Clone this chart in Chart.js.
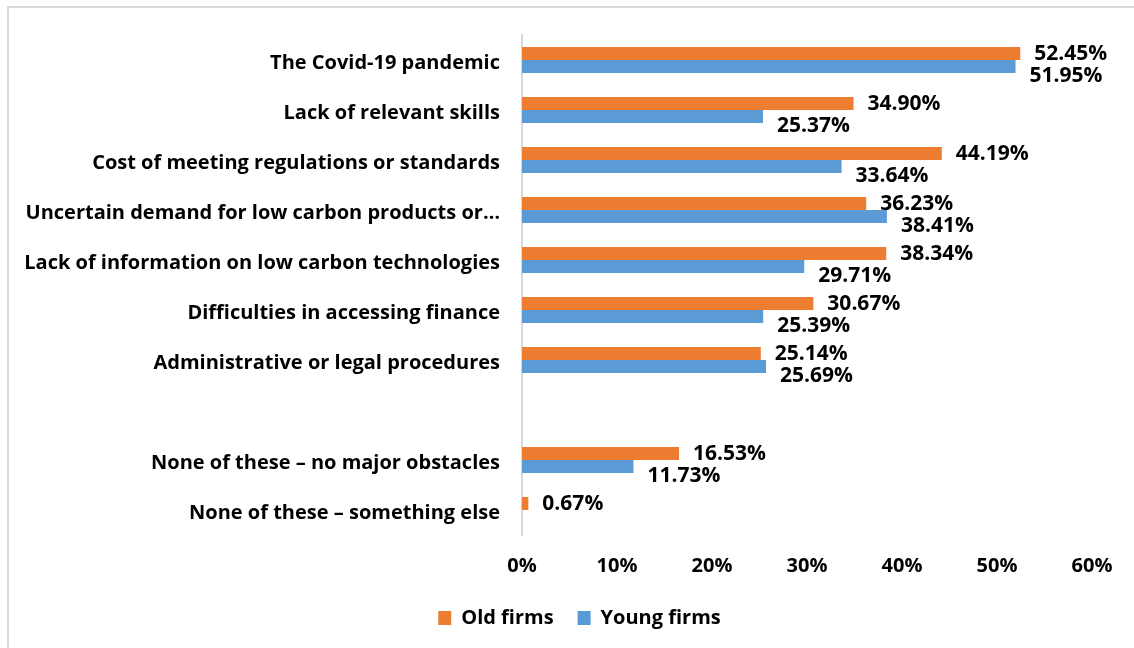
<!DOCTYPE html>
<html>
<head>
<meta charset="utf-8">
<script src="https://cdn.jsdelivr.net/npm/chart.js@4.4.1/dist/chart.umd.min.js"></script>
<style>
  html, body { margin: 0; padding: 0; background: #fff; overflow: hidden; }
  .frame { position: absolute; left: 7px; top: 6px; width: 1200px; height: 700px; border: 2px solid #d9d9d9; }
  .chart-wrapper { position: absolute; left: 0; top: 0; width: 1134px; height: 648px; }
</style>
</head>
<body>
<div class="frame"></div>
<div class="chart-wrapper">
  <canvas id="obstaclesChart" width="1134" height="648"></canvas>
</div>
<script>
// categories (blank one leaves the gap before the "None of these" rows)
const categories = [
  'The Covid-19 pandemic',
  'Lack of relevant skills',
  'Cost of meeting regulations or standards',
  'Uncertain demand for low carbon products or…',
  'Lack of information on low carbon technologies',
  'Difficulties in accessing finance',
  'Administrative or legal procedures',
  '',
  'None of these – no major obstacles',
  'None of these – something else'
];
const oldFirms = [52.45, 34.90, 44.19, 36.23, 38.34, 30.67, 25.14, null, 16.53, 0.67];
const youngFirms = [51.95, 25.37, 33.64, 38.41, 29.71, 25.39, 25.69, null, 11.73, null];
const xTicks = [0, 10, 20, 30, 40, 50, 60];

const ORANGE = '#ED7D31';
const BLUE = '#5B9BD5';
const FONT = "'Open Sans'";

Chart.defaults.font.family = FONT;
Chart.defaults.color = '#000';

// value labels to the right of each bar, young firm labels dropped a bit lower
const barLabels = {
  id: 'barLabels',
  afterDatasetsDraw(chart) {
    const ctx = chart.ctx;
    ctx.save();
    ctx.font = 'bold 21px ' + FONT;
    ctx.fillStyle = '#000';
    ctx.textAlign = 'left';
    ctx.textBaseline = 'middle';
    chart.data.datasets.forEach((ds, i) => {
      const meta = chart.getDatasetMeta(i);
      const dy = i === 0 ? 1 : 10;
      meta.data.forEach((bar, j) => {
        const v = ds.data[j];
        if (v === null || v === undefined) return;
        ctx.fillText(v.toFixed(2) + '%', bar.x + 14, bar.y + dy);
      });
    });
    ctx.restore();
  }
};

// legend sits under the plot, not under the whole canvas
const legendShift = {
  id: 'legendShift',
  afterUpdate(chart) {
    const lg = chart.legend;
    lg.left += 28;
    lg.right += 28;
    lg.adjustHitBoxes();
  }
};

const ctx = document.getElementById('obstaclesChart').getContext('2d');
new Chart(ctx, {
  type: 'bar',
  data: {
    labels: categories,
    datasets: [
      { label: 'Old firms', data: oldFirms, backgroundColor: ORANGE, categoryPercentage: 0.52, barPercentage: 1 },
      { label: 'Young firms', data: youngFirms, backgroundColor: BLUE, categoryPercentage: 0.52, barPercentage: 1 }
    ]
  },
  options: {
    indexAxis: 'y',
    responsive: false,
    animation: false,
    layout: { padding: { top: 35, right: 42, bottom: 10, left: 11 } },
    scales: {
      x: {
        min: xTicks[0],
        max: xTicks[xTicks.length - 1],
        afterBuildTicks: (scale) => { scale.ticks = xTicks.map(v => ({ value: v })); },
        afterFit: (scale) => { scale.height = 49; },
        grid: { display: false, drawTicks: false },
        border: { display: false },
        ticks: {
          padding: 19,
          font: { size: 20, weight: 'bold' },
          callback: (v) => v + '%'
        }
      },
      y: {
        afterFit: (scale) => { scale.width = 511; },
        grid: { display: false, drawTicks: false },
        border: { display: true, color: '#d9d9d9', width: 2 },
        ticks: {
          padding: 22,
          labelOffset: 3,
          autoSkip: false,
          font: { size: 20, weight: 'bold' }
        }
      }
    },
    plugins: {
      legend: {
        position: 'bottom',
        labels: {
          boxWidth: 13,
          boxHeight: 14,
          padding: 24,
          font: { size: 20, weight: 'bold' }
        }
      },
      tooltip: { enabled: false }
    }
  },
  plugins: [barLabels, legendShift]
});
</script>
</body>
</html>
